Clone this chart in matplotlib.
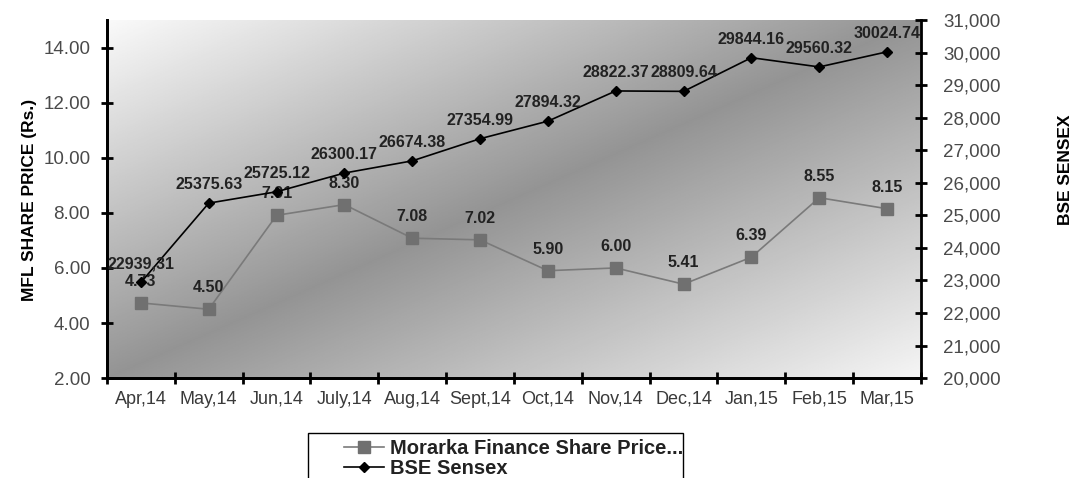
import numpy as np
import matplotlib
matplotlib.use('Agg')
import matplotlib.pyplot as plt
import matplotlib.patches as patches
from matplotlib.ticker import FuncFormatter

months = ['Apr,14', 'May,14', 'Jun,14', 'July,14', 'Aug,14', 'Sept,14',
          'Oct,14', 'Nov,14', 'Dec,14', 'Jan,15', 'Feb,15', 'Mar,15']
mfl_price = [4.73, 4.50, 7.91, 8.30, 7.08, 7.02, 5.90, 6.00, 5.41, 6.39, 8.55, 8.15]
sensex = [22939.31, 25375.63, 25725.12, 26300.17, 26674.38, 27354.99,
          27894.32, 28822.37, 28809.64, 29844.16, 29560.32, 30024.74]
mfl_labels = ['4.73', '4.50', '7.91', '8.30', '7.08', '7.02',
              '5.90', '6.00', '5.41', '6.39', '8.55', '8.15']
sensex_labels = ['22939,31', '25375.63', '25725.12', '26300.17', '26674.38', '27354.99',
                 '27894.32', '28822.37', '28809.64', '29844.16', '29560.32', '30024.74']

plt.rcParams['font.family'] = ['Liberation Sans', 'DejaVu Sans']
narrow = ['Liberation Sans Narrow', 'Liberation Sans', 'DejaVu Sans']

fig = plt.figure(figsize=(10.83, 4.78), dpi=100)
ax = fig.add_axes([0.0988, 0.209, 0.7516, 0.749])
ax2 = ax.twinx()

# diagonal gradient background
n = 300
u = np.linspace(0, 1, n)
U, V = np.meshgrid(u, u)
t = (U + V) / 2          # 0 at top-left, 1 at bottom-right (image origin upper)
gray = np.interp(t, [0, 0.5, 1], [0.98, 0.58, 0.96])
ax.imshow(gray, cmap='gray', vmin=0, vmax=1, extent=[0, 1, 0, 1],
          transform=ax.transAxes, aspect='auto', zorder=0, origin='upper')

x = np.arange(len(months))

ax.plot(x, mfl_price, color='#7a7a7a', lw=1.2, marker='s', markersize=8,
        markerfacecolor='#707070', markeredgecolor='#707070', zorder=3,
        label='Morarka Finance Share Price...')
ax2.plot(x, sensex, color='black', lw=1.2, marker='D', markersize=5,
         zorder=3, label='BSE Sensex')

for xi, yi, lab in zip(x, mfl_price, mfl_labels):
    ax.annotate(lab, (xi, yi), xytext=(0, 10), textcoords='offset points',
                ha='center', va='bottom', fontsize=11.5, fontweight='bold', color='#222222')
for xi, yi, lab in zip(x, sensex, sensex_labels):
    ax2.annotate(lab, (xi, yi), xytext=(0, 8), textcoords='offset points',
                 ha='center', va='bottom', fontsize=11.5, fontweight='bold', color='#222222')

ax.set_xlim(-0.5, len(months) - 0.5)
ax.set_ylim(2, 15)
ax2.set_ylim(20000, 31000)

ax.set_yticks(np.arange(2, 15, 2))
ax.yaxis.set_major_formatter(FuncFormatter(lambda v, p: f'{v:.2f}'))
ax2.set_yticks(np.arange(20000, 31001, 1000))
ax2.yaxis.set_major_formatter(FuncFormatter(lambda v, p: f'{int(v):,}'))

ax.set_xticks(x)
ax.set_xticklabels(months)
ax.set_xticks(np.arange(-0.5, len(months), 1), minor=True)
ax.tick_params(axis='x', which='major', length=0, pad=9, labelsize=13, labelcolor='#3a3a3a')
ax.tick_params(axis='x', which='minor', length=8, width=2, direction='inout', color='black')
ax.tick_params(axis='y', length=8, width=2, direction='inout', labelsize=13.5,
               labelcolor='#4a4a4a', pad=8)
ax2.tick_params(axis='y', length=8, width=2, direction='inout', labelsize=13.5,
                labelcolor='#4a4a4a', pad=12)

for a in (ax, ax2):
    a.spines['top'].set_visible(False)
    for s in ('left', 'right', 'bottom'):
        a.spines[s].set_linewidth(2)
ax.spines['right'].set_visible(False)

fig.text(0.027, 0.582, 'MFL SHARE PRICE (Rs.)', rotation=90, ha='center', va='center',
         fontsize=12.5, fontweight='bold', family=narrow)
fig.text(0.984, 0.644, 'BSE SENSEX', rotation=90, ha='center', va='center',
         fontsize=12.5, fontweight='bold', family=narrow)

# legend box (cut off by the bottom edge, as in the source)
fig.patches.append(patches.Rectangle((308 / 1083, -0.05), 375 / 1083, 0.05 + 45 / 478,
                                     transform=fig.transFigure, fill=False,
                                     edgecolor='black', linewidth=1))
h1, l1 = ax.get_legend_handles_labels()
h2, l2 = ax2.get_legend_handles_labels()
leg = fig.legend(h1 + h2, l1 + l2, loc='upper left', bbox_to_anchor=(338 / 1083, 0.094),
                 frameon=False, handlelength=2.0, handletextpad=0.3, borderpad=0.3,
                 labelspacing=0.05, borderaxespad=0,
                 prop={'weight': 'bold', 'size': 14.5})
for txt in leg.get_texts():
    txt.set_color('#222222')

fig.savefig('out.png', dpi=100)
